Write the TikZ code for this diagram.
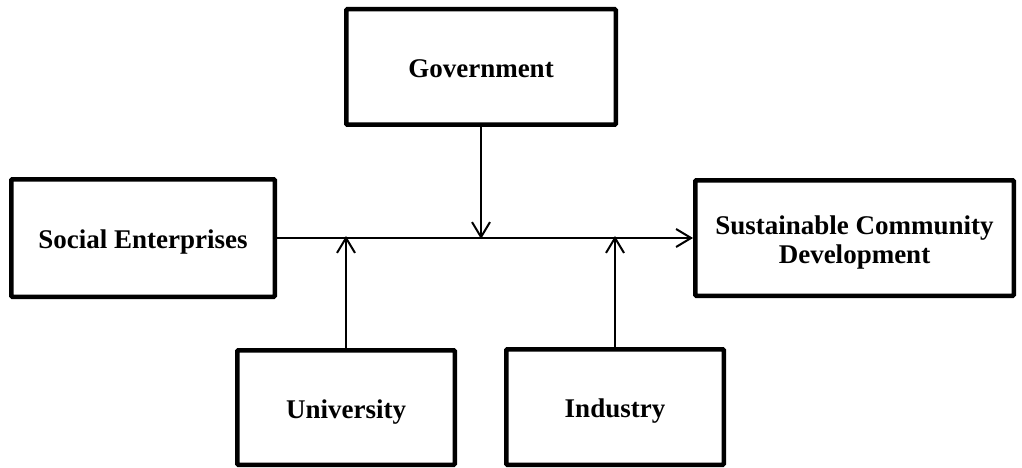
\documentclass[tikz,border=0pt]{standalone}
\usepackage{fontspec}
\setmainfont{Liberation Serif}
\usetikzlibrary{arrows.meta}
\begin{document}
\begin{tikzpicture}[x=1pt,y=-1pt,
  box/.style={draw=black, line width=4.5pt, fill=white, inner sep=0pt, rounded corners=1pt,
    font=\fontsize{27}{29}\selectfont\bfseries, align=center, text height=21pt, text depth=0pt},
  conn/.style={line width=2pt, -{Straight Barb[length=15pt,width=18pt,line width=2pt]}}]
\useasboundingbox (0,0) rectangle (1022,468);
\node[box, minimum width=269.5pt, minimum height=115.5pt] (gov) at (481,67) {Government};
\node[box, minimum width=263.5pt, minimum height=117.5pt] (soc) at (143,238) {Social Enterprises};
\node[box, minimum width=318.5pt, minimum height=115.5pt, text height=50pt] (scd) at (854.5,238) {Sustainable Community\\Development};
\node[box, minimum width=217.5pt, minimum height=114.5pt] (uni) at (346,407.5) {University};
\node[box, minimum width=217.5pt, minimum height=115.5pt] (ind) at (615,407) {Industry};
\draw[conn] (soc.east) -- (scd.west);
\draw[conn] (gov.south) -- ([yshift=-1pt]gov.south |- soc.east);
\draw[conn] (uni.north) -- ([yshift=2pt]uni.north |- soc.east);
\draw[conn] (ind.north) -- ([yshift=2pt]ind.north |- soc.east);
\end{tikzpicture}
\end{document}
